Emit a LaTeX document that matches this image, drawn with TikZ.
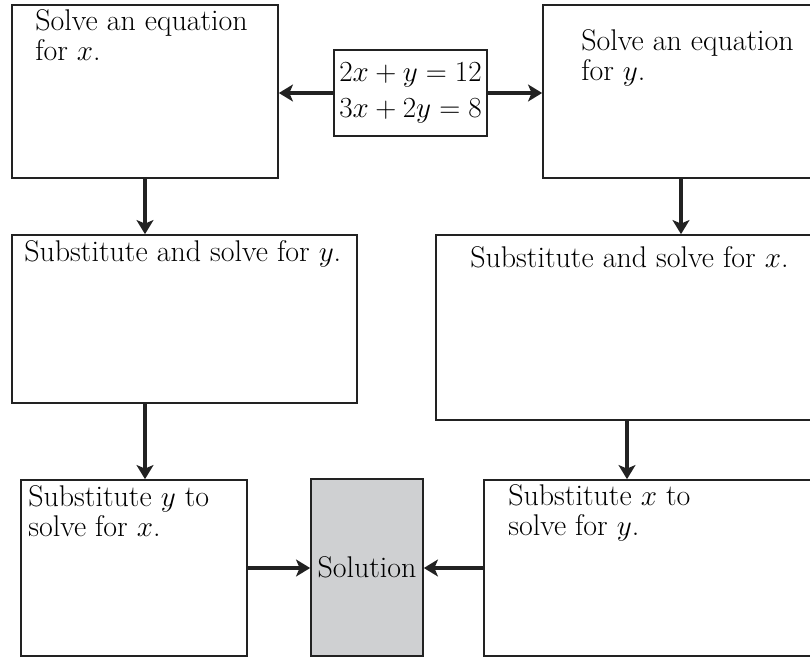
\documentclass[tikz,border=0pt]{standalone}
\usepackage{tikz}
\usetikzlibrary{arrows.meta,calc,fit}
\definecolor{boxline}{HTML}{222222}
\definecolor{solgrey}{HTML}{CFD0D2}
\tikzset{
  flow box/.style  = {draw=boxline, line width=1.2pt, fill=white, inner sep=0pt},
  result box/.style = {flow box, fill=solgrey},
  box text/.style  = {anchor=north west, inner sep=0pt, align=left,
                      font=\fontsize{21.3}{21.4}\selectfont},
  flow/.style      = {-{Stealth[length=10pt, width=12pt, inset=2.5pt]},
                      line width=2.2pt, boxline},
}

\begin{document}
\begin{tikzpicture}[x=0.025cm, y=-0.025cm]
  \useasboundingbox (0,0) rectangle (810,658);
  \clip (0,0) rectangle (810,658);
  % first row
  \node[flow box, fit={(12,5) (278,178)}] (solvex) {};
  \node[flow box, fit={(543,5) (819,178)}] (solvey) {};
  \node[flow box, fit={(334,50) (487,136)}] (system) {};
  \node[inner sep=0pt, align=left, font=\fontsize{21.3}{25.6}\selectfont]
    (system text) at (system.center) {$2x + y = 12$\\$3x + 2y = 8$};
  \node[box text] (solvex text) at (35,9.5) {Solve an equation\\for $x$.};
  \node[box text] (solvey text) at (581,29.5) {Solve an equation\\for $y$.};
  % second row
  \node[flow box, fit={(12,235) (357,403)}] (substy) {};
  \node[flow box, fit={(436,235) (818,420)}] (substx) {};
  \node[box text] (substy text) at (24,240.5) {Substitute and solve for $y$.};
  \node[box text] (substx text) at (470,246.5) {Substitute and solve for $x$.};
  % third row
  \node[flow box, fit={(21,480) (247,656)}] (backx) {};
  \node[flow box, fit={(484,480) (818,656)}] (backy) {};
  \node[result box, fit={(311,479) (423,656)}] (solution) {};
  \node[inner sep=0pt, font=\fontsize{21.3}{21.4}\selectfont]
    (solution text) at (solution.center) {Solution};
  \node[box text] (backx text) at (28,485.5) {Substitute $y$ to\\solve for $x$.};
  \node[box text] (backy text) at (508,484.5) {Substitute $x$ to\\solve for $y$.};
  % connectors
  \draw[flow] (system.west) -- (system.west -| solvex.east);
  \draw[flow] (system.east) -- (system.east -| solvey.west);
  \draw[flow] (solvex.south) -- (solvex.south |- substy.north);
  \draw[flow] (solvey.south) -- (solvey.south |- substx.north);
  \draw[flow] (solvex.south |- substy.south) -- (solvex.south |- backx.north);
  \draw[flow] (substx.south) -- (substx.south |- backy.north);
  \draw[flow] (backx.east) -- (backx.east -| solution.west);
  \draw[flow] (backy.west) -- (backy.west -| solution.east);
\end{tikzpicture}
\end{document}
